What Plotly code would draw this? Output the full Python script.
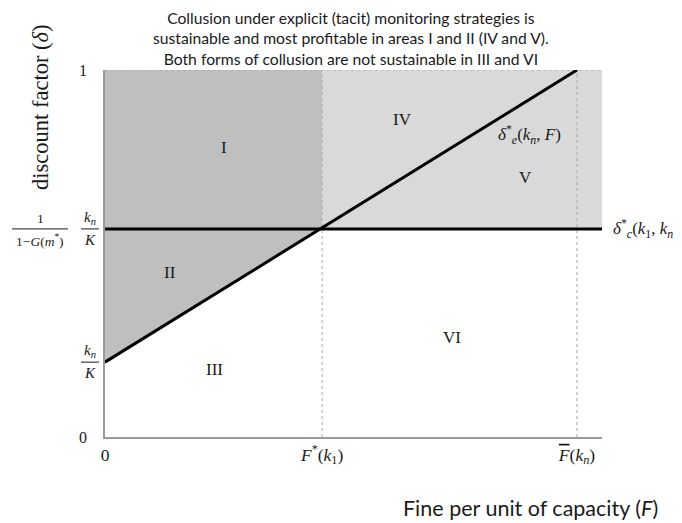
import plotly.graph_objects as go

# ---- values (x in units of F̄(k_n), y = discount factor) ----
F_star = 0.46          # F*(k1)
F_bar = 1.0            # F̄(kn)
F_max = 1.053          # right end of the shaded area / axis
kn_over_K = 0.204      # δ_e*(kn, 0) = kn/K
delta_c = 0.567        # δ_c*(k1, kn) = 1/(1-G(m*)) · kn/K
delta_top = 1.0

x_tick_vals = [0, F_star, F_bar]
x_tick_text = ["0",
               "<i>F</i><sup>*</sup>(<i>k</i><sub>1</sub>)",
               "<i><span style='text-decoration:overline'>F</span></i>(<i>k<sub>n</sub></i>)"]
y_tick_vals = [0, delta_top]
y_tick_text = ["0", "1"]

region_names = ["I", "II", "III", "IV", "V", "VI"]
region_x = [0.252, 0.138, 0.233, 0.631, 0.89, 0.735]
region_y = [0.79, 0.447, 0.183, 0.864, 0.706, 0.27]

title_lines = ["Collusion under explicit (tacit) monitoring strategies is",
               "sustainable and most profitable in areas I and II (IV and V).",
               "Both forms of collusion are not sustainable in III and VI"]

slope = (delta_top - kn_over_K) / F_bar


def diag(x):
    return kn_over_K + slope * x


SERIF = "Liberation Serif, DejaVu Serif, serif"
SANS = "Lato, Roboto, sans-serif"
INK = "#1a1a1a"
DARK = "#bfbfbf"
LIGHT = "#d9d9d9"
DOT = "#a8a8a8"

fig = go.Figure()

# dark grey: areas I and II (explicit collusion)
fig.add_trace(go.Scatter(
    x=[0, F_star, F_star, 0, 0],
    y=[kn_over_K, diag(F_star), delta_top, delta_top, kn_over_K],
    fill="toself", fillcolor=DARK, mode="none", hoverinfo="skip"))
# light grey: areas IV and V (tacit collusion)
fig.add_trace(go.Scatter(
    x=[F_star, F_max, F_max, F_star, F_star],
    y=[delta_c, delta_c, delta_top, delta_top, delta_c],
    fill="toself", fillcolor=LIGHT, mode="none", hoverinfo="skip"))

# dotted reference lines
fig.add_trace(go.Scatter(x=[0, F_max], y=[delta_top, delta_top], mode="lines",
                         line=dict(color=DOT, width=1, dash="dot"), hoverinfo="skip"))
for xv in [F_star, F_bar]:
    fig.add_trace(go.Scatter(x=[xv, xv], y=[0, delta_top], mode="lines",
                             line=dict(color=DOT, width=1, dash="dot"), hoverinfo="skip"))

# thresholds
fig.add_trace(go.Scatter(x=[0, F_max], y=[delta_c, delta_c], mode="lines",
                         line=dict(color="black", width=3), hoverinfo="skip"))
fig.add_trace(go.Scatter(x=[0, F_bar], y=[kn_over_K, diag(F_bar)], mode="lines",
                         line=dict(color="black", width=3), hoverinfo="skip"))

annotations = []
for name, xv, yv in zip(region_names, region_x, region_y):
    annotations.append(dict(x=xv, y=yv, xref="x", yref="y", text=name, showarrow=False,
                            font=dict(family=SERIF, size=17, color=INK)))

annotations.append(dict(x=0.90, y=0.823, xref="x", yref="y",
                        text="<i>δ</i><sup>*</sup><sub><i>e</i></sub>(<i>k<sub>n</sub></i>, <i>F</i>)",
                        showarrow=False, font=dict(family=SERIF, size=17, color=INK)))
annotations.append(dict(x=F_max, y=delta_c, xref="x", yref="y", xanchor="left", xshift=9,
                        text="<i>δ</i><sup>*</sup><sub><i>c</i></sub>(<i>k</i><sub>1</sub>, <i>k<sub>n</sub></i>)",
                        showarrow=False, font=dict(family=SERIF, size=17, color=INK)))

# fraction labels on the y axis
frac_font = dict(family=SERIF, size=15, color=INK)
small_font = dict(family=SERIF, size=13.5, color=INK)
annotations += [
    dict(x=0, y=delta_c, xref="x", yref="y", xanchor="center", yanchor="bottom",
         xshift=-65, yshift=1, text="1", showarrow=False, font=small_font),
    dict(x=0, y=delta_c, xref="x", yref="y", xanchor="center", yanchor="top",
         xshift=-65, yshift=-1, text="1−<i>G</i>(<i>m</i><sup>*</sup>)", showarrow=False, font=small_font),
    dict(x=0, y=delta_c, xref="x", yref="y", xanchor="center", yanchor="bottom",
         xshift=-15, yshift=0, text="<i>k<sub>n</sub></i>", showarrow=False, font=frac_font),
    dict(x=0, y=delta_c, xref="x", yref="y", xanchor="center", yanchor="top",
         xshift=-15, yshift=-1, text="<i>K</i>", showarrow=False, font=frac_font),
    dict(x=0, y=kn_over_K, xref="x", yref="y", xanchor="center", yanchor="bottom",
         xshift=-15, yshift=0, text="<i>k<sub>n</sub></i>", showarrow=False, font=frac_font),
    dict(x=0, y=kn_over_K, xref="x", yref="y", xanchor="center", yanchor="top",
         xshift=-15, yshift=-1, text="<i>K</i>", showarrow=False, font=frac_font),
]

# title (one centred block of three lines)
annotations.append(dict(x=0.495, y=1.168, xref="paper", yref="paper", xanchor="center",
                        yanchor="top", text="<br>".join(title_lines), showarrow=False,
                        borderpad=0,
                        font=dict(family=SANS, size=15.7, color=INK)))

# axis titles
annotations.append(dict(x=-0.131, y=0.899, xref="paper", yref="paper", textangle=-90,
                        xanchor="center", yanchor="middle",
                        text="discount factor (<i>δ</i>)", showarrow=False,
                        font=dict(family=SERIF, size=22.5, color=INK)))
annotations.append(dict(x=1.117, y=-0.193, xref="paper", yref="paper", xanchor="right",
                        yanchor="middle",
                        text="Fine per unit of capacity (<i>F</i>)", showarrow=False,
                        font=dict(family=SANS, size=21.5, color=INK)))

# fraction bars (paper-referenced so they are not clipped to the plot area)
shapes = []
for yv, x0, x1 in [(delta_c, -93, -37), (delta_c, -24, -6), (kn_over_K, -24, -6)]:
    shapes.append(dict(type="line", xref="paper", yref="y", xsizemode="pixel", ysizemode="pixel",
                       xanchor=0, yanchor=yv, x0=x0, x1=x1, y0=0, y1=0,
                       line=dict(color=INK, width=1)))

fig.update_layout(
    width=682, height=523,
    margin=dict(l=97, r=88, t=62, b=94),
    paper_bgcolor="white", plot_bgcolor="white",
    showlegend=False,
    xaxis=dict(range=[0, F_max], showgrid=False, zeroline=False, showline=True,
               linecolor="#9a9a9a", linewidth=1.5, tickvals=x_tick_vals, ticktext=x_tick_text,
               ticks="", ticklabelstandoff=1,
               tickfont=dict(family=SERIF, size=17.5, color=INK)),
    yaxis=dict(range=[0, delta_top], showgrid=False, zeroline=False, showline=True,
               linecolor="#9a9a9a", linewidth=1.5, tickvals=y_tick_vals, ticktext=y_tick_text,
               ticks="", ticklabelstandoff=13,
               tickfont=dict(family=SERIF, size=16, color=INK)),
    annotations=annotations,
    shapes=shapes,
)

fig.write_html("out.html")
